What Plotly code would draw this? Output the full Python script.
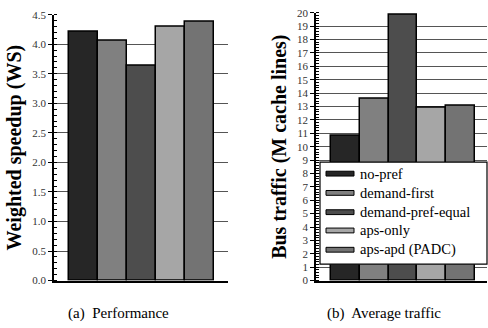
import plotly.graph_objects as go

series = ["no-pref", "demand-first", "demand-pref-equal", "aps-only", "aps-apd (PADC)"]
colors = ["#262626", "#808080", "#4d4d4d", "#a6a6a6", "#737373"]
speedup = [4.21, 4.06, 3.64, 4.30, 4.38]
traffic = [10.8, 13.55, 19.85, 12.9, 13.05]

FONT = "Liberation Serif, Times New Roman, Times, serif"
W, H = 488, 328

fig = go.Figure()
fig.add_trace(go.Bar(x=series, y=speedup, marker=dict(color=colors, line=dict(color="black", width=1.5)),
                     width=1, xaxis="x", yaxis="y", showlegend=False))
fig.add_trace(go.Bar(x=series, y=traffic, marker=dict(color=colors, line=dict(color="black", width=1.5)),
                     width=1, xaxis="x2", yaxis="y2", showlegend=False))

def px_x(p):
    return p / W

def px_y(p):
    return 1 - p / H

common_y = dict(showline=True, linecolor="black", linewidth=1.5, ticks="outside", ticklen=4,
                tickcolor="black", showgrid=True, gridcolor="#555555", gridwidth=1,
                tickfont=dict(family=FONT, size=11, color="#333333"), zeroline=False,
                title_font=dict(family=FONT, size=20, color="black"), title_standoff=5)

fig.update_layout(
    width=W, height=H, margin=dict(l=0, r=0, t=0, b=0),
    paper_bgcolor="white", plot_bgcolor="white", bargap=0,
    font=dict(family=FONT),
    xaxis=dict(domain=[px_x(54), px_x(228)], range=[-1, 5], showticklabels=False, ticks="",
               showline=True, linecolor="black", linewidth=1.5, anchor="y", showgrid=False),
    yaxis=dict(domain=[px_y(285), px_y(9)], range=[0, 4.5], dtick=0.5, tickformat=".1f",
               minor=dict(dtick=0.1, ticks="inside", ticklen=3, tickcolor="black", showgrid=False),
               title_text="<b>Weighted speedup (WS)</b>", anchor="x", **common_y),
    xaxis2=dict(domain=[px_x(316), px_x(487)], range=[-1.02, 4.92], showticklabels=False, ticks="",
                showline=True, linecolor="black", linewidth=1.5, anchor="y2", showgrid=False),
    yaxis2=dict(domain=[px_y(285), px_y(7)], range=[0, 20], dtick=1,
                minor=dict(dtick=0.2, ticks="inside", ticklen=3, tickcolor="black", showgrid=False),
                title_text="<b>Bus traffic (M cache lines)</b>", anchor="x2", **common_y),
)

# Legend drawn manually inside the right subplot
shapes = []
annotations = []
lx0, lx1, ly0, ly1 = 320, 487, 162, 268
shapes.append(dict(type="rect", xref="paper", yref="paper", x0=px_x(lx0), x1=px_x(lx1),
                   y0=px_y(ly1), y1=px_y(ly0), fillcolor="white", line=dict(color="black", width=1.2)))
row_y = [174, 194, 214, 233, 253]
for name, col, ry in zip(series, colors, row_y):
    shapes.append(dict(type="rect", xref="paper", yref="paper", x0=px_x(326), x1=px_x(354),
                       y0=px_y(ry + 2.5), y1=px_y(ry - 2.5), fillcolor=col,
                       line=dict(color="black", width=1)))
    annotations.append(dict(xref="paper", yref="paper", x=px_x(358), y=px_y(ry), text=name,
                            showarrow=False, xanchor="left", yanchor="middle",
                            font=dict(family=FONT, size=14.5, color="black")))

annotations.append(dict(xref="paper", yref="paper", x=px_x(118), y=px_y(319), text="(a)  Performance",
                        showarrow=False, xanchor="center", yanchor="middle",
                        font=dict(family=FONT, size=15, color="black")))
annotations.append(dict(xref="paper", yref="paper", x=px_x(384), y=px_y(319), text="(b)  Average traffic",
                        showarrow=False, xanchor="center", yanchor="middle",
                        font=dict(family=FONT, size=15, color="black")))

fig.update_layout(shapes=shapes, annotations=annotations)
fig.write_html("out.html", config={"displayModeBar": False},
               post_script="document.body.style.margin='0px';document.body.style.overflow='hidden';")
